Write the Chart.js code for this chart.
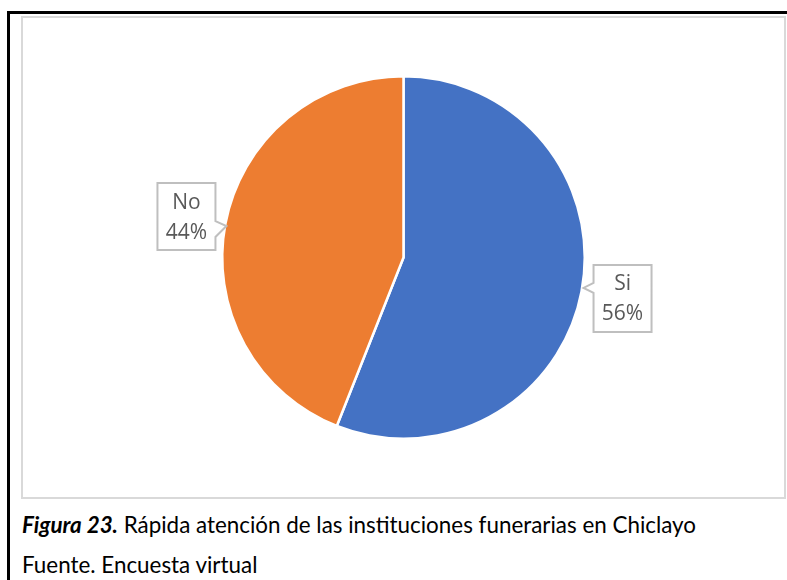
<!DOCTYPE html>
<html>
<head>
<meta charset="utf-8">
<script src="https://cdn.jsdelivr.net/npm/chart.js@4.4.0/dist/chart.umd.min.js"></script>
<style>
  body { margin: 0; background: #fff; width: 787px; height: 580px; overflow: hidden; position: relative; }
  #frame { position: absolute; left: 7px; top: 11px; width: 800px; height: 600px; border-left: 3px solid #000; border-top: 3px solid #000; }
  #box { position: absolute; left: 21px; top: 16px; width: 761px; height: 479px; border: 2px solid #d9d9d9; }
  #box canvas { display: block; }
  .cap { position: absolute; left: 22px; font-family: "Lato", "Open Sans", sans-serif; font-size: 22.4px; color: #000; white-space: nowrap; }
  #cap1 { top: 511px; }
  #cap2 { top: 551px; }
</style>
</head>
<body>
<div id="frame"></div>
<div id="box"><canvas id="chart" width="761" height="479"></canvas></div>
<div class="cap" id="cap1"><b><i>Figura 23.</i></b> Rápida atención de las instituciones funerarias en Chiclayo</div>
<div class="cap" id="cap2">Fuente. Encuesta virtual</div>
<script>
var categories = ['Si', 'No'];
var values = [56, 44];
var colors = ['#4472c4', '#ed7d31'];
// where the callouts sit, relative to the slice's outer mid point (dx, dy)
var labelShift = [[12, 7], [-10, -7]];
// pointer notch on the box edge (top, tip, bottom), from the box top
var notch = [[18, 23, 28], [38, 43, 54]];

var calloutPlugin = {
    id: 'callouts',
    afterDatasetsDraw: function (chart) {
        var ctx = chart.ctx;
        var meta = chart.getDatasetMeta(0);
        var total = values.reduce(function (a, b) { return a + b; }, 0);
        meta.data.forEach(function (arc, i) {
            var mid = (arc.startAngle + arc.endAngle) / 2;
            var ex = arc.x + Math.cos(mid) * arc.outerRadius;
            var ey = arc.y + Math.sin(mid) * arc.outerRadius;
            var right = Math.cos(mid) >= 0;
            var w = 58, h = 67;
            var cx = ex + labelShift[i][0] + (right ? w / 2 : -w / 2);
            var cy = ey + labelShift[i][1];
            var x0 = cx - w / 2, y0 = cy - h / 2;
            var pct = Math.round(values[i] / total * 100) + '%';
            var n = notch[i];

            ctx.save();
            ctx.beginPath();
            if (right) {
                ctx.moveTo(x0, y0);
                ctx.lineTo(x0 + w, y0);
                ctx.lineTo(x0 + w, y0 + h);
                ctx.lineTo(x0, y0 + h);
                ctx.lineTo(x0, y0 + n[2]);
                ctx.lineTo(x0 - 10, y0 + n[1]);
                ctx.lineTo(x0, y0 + n[0]);
                ctx.closePath();
            } else {
                ctx.moveTo(x0, y0);
                ctx.lineTo(x0 + w, y0);
                ctx.lineTo(x0 + w, y0 + n[0]);
                ctx.lineTo(x0 + w + 11, y0 + n[1]);
                ctx.lineTo(x0 + w, y0 + n[2]);
                ctx.lineTo(x0 + w, y0 + h);
                ctx.lineTo(x0, y0 + h);
                ctx.closePath();
            }
            ctx.fillStyle = '#fff';
            ctx.fill();
            ctx.strokeStyle = '#bfbfbf';
            ctx.lineWidth = 2;
            ctx.stroke();
            ctx.fillStyle = '#595959';
            ctx.font = '21px "Open Sans", sans-serif';
            ctx.textAlign = 'center';
            ctx.textBaseline = 'middle';
            ctx.fillText(categories[i], cx, cy - 14);
            ctx.fillText(pct, cx, cy + 16);
            ctx.restore();
        });
    }
};

var chart = new Chart(document.getElementById('chart'), {
    type: 'pie',
    data: {
        labels: categories,
        datasets: [{
            data: values,
            backgroundColor: colors,
            borderColor: '#fff',
            borderWidth: 2.5
        }]
    },
    options: {
        responsive: false,
        animation: false,
        layout: { padding: { top: 57, bottom: 57 } },
        plugins: {
            legend: { display: false },
            tooltip: { enabled: false }
        }
    },
    plugins: [calloutPlugin]
});
</script>
</body>
</html>
